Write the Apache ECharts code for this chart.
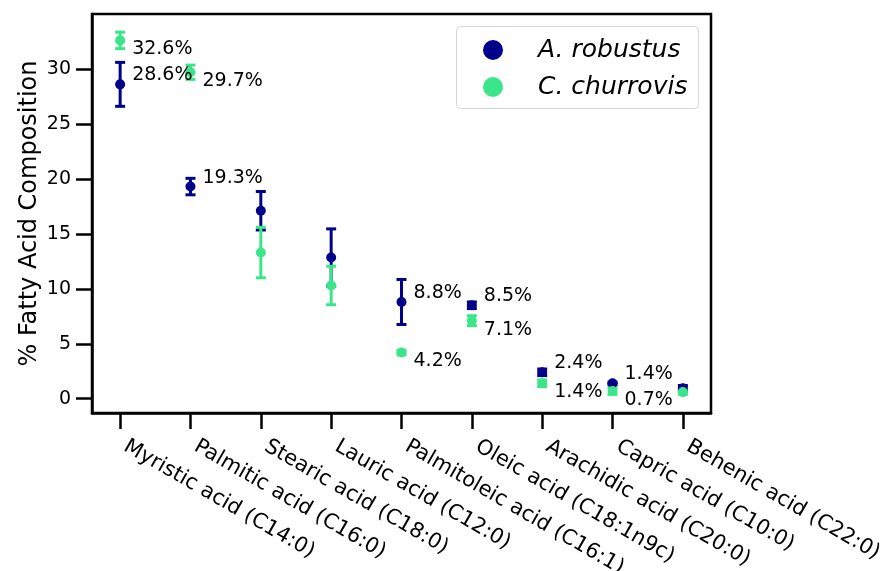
<!DOCTYPE html>
<html>
<head>
<meta charset="utf-8">
<script src="https://cdn.jsdelivr.net/npm/echarts@6/dist/echarts.min.js"></script>
<style>html,body{margin:0;padding:0;background:#fff;}#c{width:883px;height:571px;}</style>
</head>
<body>
<div id="c"></div>
<script>
var categories = ["Myristic acid (C14:0)", "Palmitic acid (C16:0)", "Stearic acid (C18:0)", "Lauric acid (C12:0)", "Palmitoleic acid (C16:1)", "Oleic acid (C18:1n9c)", "Arachidic acid (C20:0)", "Capric acid (C10:0)", "Behenic acid (C22:0)"];
var robustusMean = [28.6, 19.3, 17.1, 12.85, 8.8, 8.5, 2.4, 1.4, 0.95];
var robustusErr = [2.0, 0.75, 1.75, 2.6, 2.05, 0.3, 0.3, 0.1, 0.25];
var robustusShowLabel = [true, true, false, false, true, true, true, true, false];
var churrovisMean = [32.6, 29.7, 13.3, 10.3, 4.2, 7.1, 1.4, 0.7, 0.6];
var churrovisErr = [0.75, 0.65, 2.3, 1.75, 0.2, 0.45, 0.3, 0.3, 0.2];
var churrovisShowLabel = [true, true, false, false, true, true, true, true, false];
var yTicks = [0, 5, 10, 15, 20, 25, 30];
var xTicks = [0, 1, 2, 3, 4, 5, 6, 7, 8];

var NAVY = '#00008B', GREEN = '#3BE68A';
var FONT = 'DejaVu Sans';

function errData(mean, err) {
  return mean.map(function (m, i) { return [i, m - err[i], m + err[i]]; });
}
function pointData(mean, show) {
  return mean.map(function (m, i) { return { value: [i, m], label: { show: show[i] } }; });
}
function errRender(color) {
  return function (params, api) {
    var x = api.value(0);
    var lo = api.coord([x, api.value(1)]);
    var hi = api.coord([x, api.value(2)]);
    var hw = 5;
    var st = { stroke: color, lineWidth: 3 };
    return {
      type: 'group',
      children: [
        { type: 'line', shape: { x1: hi[0], y1: hi[1], x2: lo[0], y2: lo[1] }, style: st },
        { type: 'line', shape: { x1: hi[0] - hw, y1: hi[1], x2: hi[0] + hw, y2: hi[1] }, style: st },
        { type: 'line', shape: { x1: lo[0] - hw, y1: lo[1], x2: lo[0] + hw, y2: lo[1] }, style: st }
      ]
    };
  };
}

var chart = echarts.init(document.getElementById('c'), null, { renderer: 'canvas' });
chart.setOption({
  animation: false,
  backgroundColor: '#fff',
  textStyle: { fontFamily: FONT },
  grid: { left: 92, right: 172, top: 14, bottom: 158, outerBoundsMode: 'none', containLabel: false, show: true, borderColor: '#000', borderWidth: 2.5, backgroundColor: 'transparent' },
  graphic: [{
    type: 'rect', left: 456, top: 26, z: 10,
    shape: { width: 242, height: 82, r: 4 },
    style: { fill: 'rgba(255,255,255,0.85)', stroke: '#d5d5d5', lineWidth: 1 }
  }],
  legend: {
    orient: 'vertical', left: 478, top: 30, z: 11,
    itemWidth: 20, itemHeight: 20, itemGap: 7,
    icon: 'circle',
    textStyle: { fontFamily: FONT, fontSize: 25, fontStyle: 'italic', color: '#000', lineHeight: 30, padding: [0, 0, 0, 30] },
    data: ['A. robustus', 'C. churrovis']
  },
  xAxis: {
    type: 'value', min: -0.4, max: 8.4,
    axisLine: { show: true, onZero: false, lineStyle: { color: '#000', width: 2.5 } },
    axisTick: { show: true, length: 16, lineStyle: { color: '#000', width: 2.5 }, customValues: xTicks },
    axisLabel: {
      customValues: xTicks, rotate: -30, margin: 29, padding: [0, 0, 0, 6],
      fontFamily: FONT, fontSize: 21, color: '#000',
      formatter: function (v) { return categories[Math.round(v)]; }
    },
    splitLine: { show: false }
  },
  yAxis: {
    type: 'value', min: -1.3, max: 35,
    name: '% Fatty Acid Composition', nameLocation: 'middle', nameGap: 50, nameMoveOverlap: false,
    nameTextStyle: { fontFamily: FONT, fontSize: 24, color: '#000' },
    axisLine: { show: true, onZero: false, lineStyle: { color: '#000', width: 2.5 } },
    axisTick: { show: true, length: 16, lineStyle: { color: '#000', width: 2.5 }, customValues: yTicks },
    axisLabel: { customValues: yTicks, margin: 21, fontFamily: FONT, fontSize: 19, color: '#000' },
    splitLine: { show: false }
  },
  series: [
    {
      type: 'custom', name: 'A. robustus err', renderItem: errRender(NAVY),
      data: errData(robustusMean, robustusErr), encode: { x: 0, y: [1, 2] }, silent: true
    },
    {
      type: 'scatter', name: 'A. robustus', symbol: 'circle', symbolSize: 10,
      itemStyle: { color: NAVY, opacity: 1 },
      label: {
        position: 'right', distance: 7, offset: [0, -9],
        fontFamily: FONT, fontSize: 19, color: '#000',
        formatter: function (p) { return p.value[1].toFixed(1) + '%'; }
      },
      data: pointData(robustusMean, robustusShowLabel)
    },
    {
      type: 'custom', name: 'C. churrovis err', renderItem: errRender(GREEN),
      data: errData(churrovisMean, churrovisErr), encode: { x: 0, y: [1, 2] }, silent: true
    },
    {
      type: 'scatter', name: 'C. churrovis', symbol: 'circle', symbolSize: 10,
      itemStyle: { color: GREEN, opacity: 1 },
      label: {
        position: 'right', distance: 7, offset: [0, 9],
        fontFamily: FONT, fontSize: 19, color: '#000',
        formatter: function (p) { return p.value[1].toFixed(1) + '%'; }
      },
      data: pointData(churrovisMean, churrovisShowLabel)
    }
  ]
});
</script>
</body>
</html>
